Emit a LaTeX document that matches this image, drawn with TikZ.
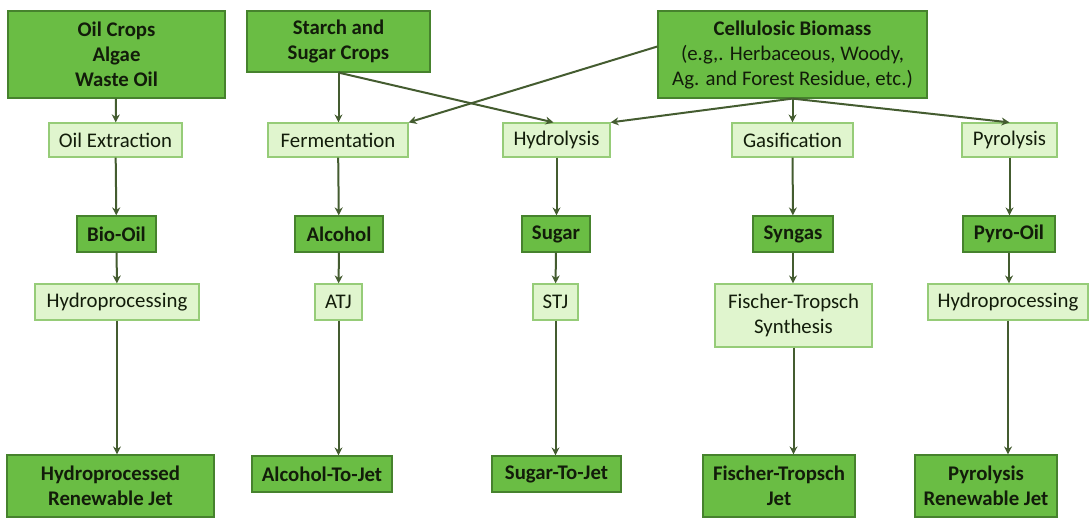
\documentclass[tikz,border=0pt]{standalone}
\usepackage{fontspec}
\setmainfont{Carlito}
\usepackage{tikz}
\usetikzlibrary{positioning,arrows.meta}
\definecolor{feedgreen}{RGB}{106,189,68}
\definecolor{feededge}{RGB}{70,130,45}
\definecolor{procgreen}{RGB}{224,245,206}
\definecolor{procedge}{RGB}{150,204,120}
\definecolor{arrowgrey}{RGB}{68,92,48}
\definecolor{inkgreen}{RGB}{18,28,10}

\begin{document}
\begin{tikzpicture}[x=1pt,y=-1pt,
  every node/.style={rectangle,draw,align=center,inner sep=0pt,text=inkgreen,
    font=\fontsize{20.8}{25}\selectfont},
  feed/.style={fill=feedgreen,draw=feededge,line width=1.2pt,font=\fontsize{20.8}{25}\selectfont\bfseries},
  proc/.style={fill=procgreen,draw=procedge,line width=1.2pt},
  flow/.style={draw=arrowgrey,line width=2pt,-{Stealth[length=8pt,width=8pt]}}]
\useasboundingbox (0,0) rectangle (1091,517);
% feedstocks
\node[feed,minimum width=217pt,minimum height=87pt] (oil) at (116.5,54.5) {Oil Crops\\Algae\\Waste Oil};
\node[feed,minimum width=183pt,minimum height=61pt] (starch) at (338.5,41.5) {Starch and\\Sugar Crops};
\node[feed,minimum width=269pt,minimum height=87pt,font=\fontsize{20.8}{25}\selectfont] (cell) at (792.5,54.5)
  {\textbf{Cellulosic Biomass}\\(e.g,. Herbaceous, Woody,\\Ag. and Forest Residue, etc.)};
% first conversion step
\node[proc,minimum width=133pt,minimum height=34pt] (extract) at (115.5,140) {Oil Extraction};
\node[proc,minimum width=140pt,minimum height=34pt] (ferment) at (338,140) {Fermentation};
\node[proc,minimum width=107pt,minimum height=34pt] (hydrolysis) at (556.5,140) {Hydrolysis};
\node[proc,minimum width=121pt,minimum height=34pt] (gasify) at (792.5,140) {Gasification};
\node[proc,minimum width=95pt,minimum height=34pt] (pyrolysis) at (1009.5,140) {Pyrolysis};
% intermediates
\node[feed,minimum width=79pt,minimum height=36pt] (biooil) at (116.5,234) {Bio-Oil};
\node[feed,minimum width=88pt,minimum height=36pt] (alcohol) at (339,234) {Alcohol};
\node[feed,minimum width=68pt,minimum height=36pt] (sugar) at (556,234) {Sugar};
\node[feed,minimum width=80pt,minimum height=36pt] (syngas) at (793,234) {Syngas};
\node[feed,minimum width=92pt,minimum height=36pt] (pyrooil) at (1009,234) {Pyro-Oil};
% upgrading
\node[proc,minimum width=164pt,minimum height=36pt] (hydroA) at (117,302) {Hydroprocessing};
\node[proc,minimum width=47pt,minimum height=36pt] (atj) at (338.5,302) {ATJ};
\node[proc,minimum width=45pt,minimum height=36pt] (stj) at (555.5,302) {STJ};
\node[proc,minimum width=157pt,minimum height=63pt] (ftsyn) at (793.5,315.5) {Fischer-Tropsch\\Synthesis};
\node[proc,minimum width=160pt,minimum height=36pt] (hydroB) at (1008,302) {Hydroprocessing};
% jet fuels
\node[feed,minimum width=207pt,minimum height=62pt] (hrj) at (110.5,486) {Hydroprocessed\\Renewable Jet};
\node[feed,minimum width=140pt,minimum height=36pt] (atjet) at (322,474) {Alcohol-To-Jet};
\node[feed,minimum width=129pt,minimum height=36pt] (stjet) at (556.5,474) {Sugar-To-Jet};
\node[feed,minimum width=152pt,minimum height=62pt] (ftjet) at (779,486) {Fischer-Tropsch\\Jet};
\node[feed,minimum width=142pt,minimum height=62pt] (pyrjet) at (986,486) {Pyrolysis\\Renewable Jet};
% feedstock links
\draw[flow] (oil) -- (extract);
\draw[flow] (starch.south) -- (starch.south |- ferment.north);
\draw[flow] (starch.south) -- ([xshift=-3pt]hydrolysis.north);
\draw[flow] ([yshift=8pt]cell.west) -- (ferment.north east);
\draw[flow] (cell.south) -- (hydrolysis.north east);
\draw[flow] (cell.south) -- (gasify);
\draw[flow] (cell.south) -- (pyrolysis.north);
% pathways
\draw[flow] (extract) -- (biooil);
\draw[flow] (biooil) -- (hydroA);
\draw[flow] (hydroA.south) -- (hydroA.south |- hrj.north);
\draw[flow] (ferment) -- (alcohol);
\draw[flow] (alcohol) -- (atj);
\draw[flow] (atj.south) -- (atj.south |- atjet.north);
\draw[flow] (hydrolysis.south) -- (hydrolysis.south |- sugar.north);
\draw[flow] (sugar) -- (stj);
\draw[flow] (stj.south) -- (stj.south |- stjet.north);
\draw[flow] (gasify) -- (syngas);
\draw[flow] (syngas) -- (syngas |- ftsyn.north);
\draw[flow] (ftsyn.south) -- (ftsyn.south |- ftjet.north);
\draw[flow] (pyrolysis.south) -- (pyrolysis.south |- pyrooil.north);
\draw[flow] (pyrooil) -- (pyrooil |- hydroB.north);
\draw[flow] (hydroB.south) -- (hydroB.south |- pyrjet.north);
\end{tikzpicture}
\end{document}
